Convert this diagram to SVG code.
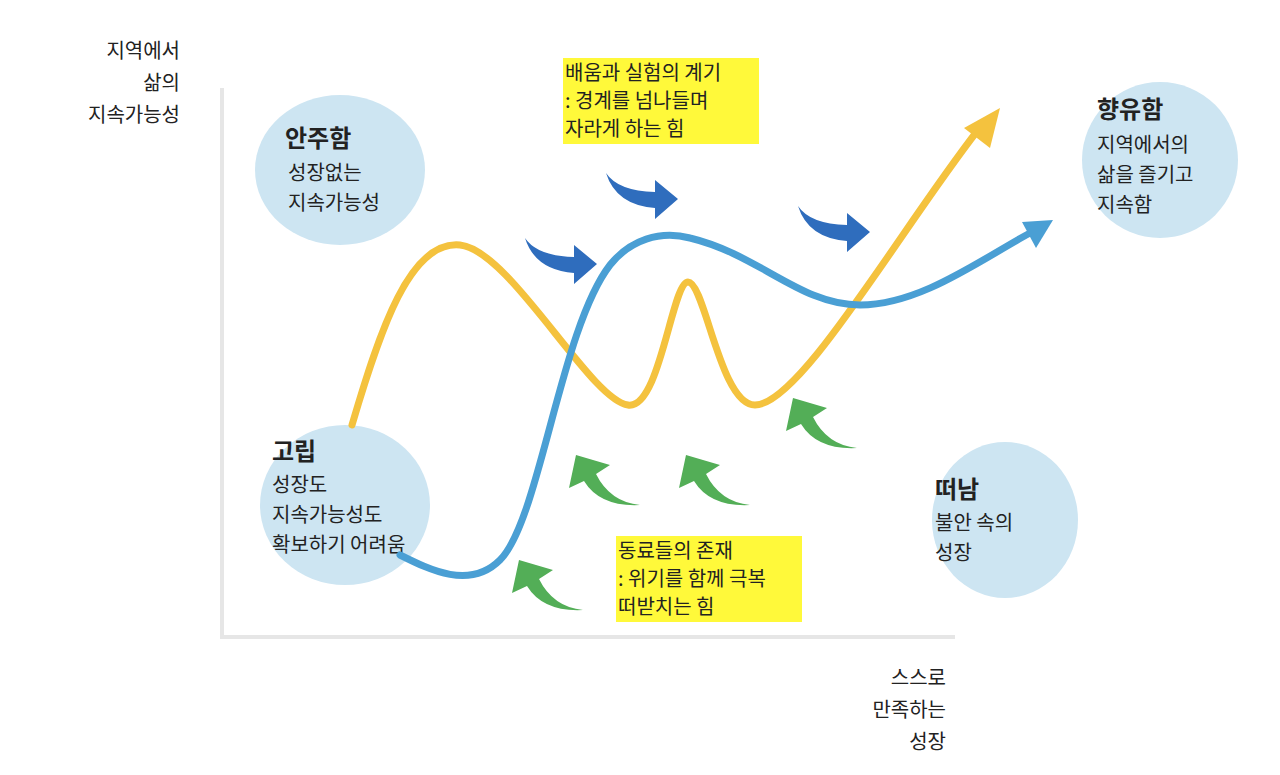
<svg xmlns="http://www.w3.org/2000/svg" width="1280" height="775" viewBox="0 0 1280 775">
<style>
text{font-family:"Noto Sans CJK KR","Noto Sans",sans-serif;font-size:20px;fill:#222}
.t{font-size:24px;font-weight:bold}
.c{fill:#cde5f2}
.hl{fill:#fff93a}
.ba{fill:#2f6dbd}
.ga{fill:#53ae57}
</style>
<defs>
<path id="barrow" d="M0,0 Q12,18 49,19 L49,7 L72,26 L49,46 L49,35 Q10,32 0,0 Z"/>
<path id="garrow" d="M0,0 Q-30,-3 -44,-31 L-30,-40 L-64,-50 L-71,-17 L-56,-24 Q-40,2 0,0 Z"/>
</defs>
<rect width="1280" height="775" fill="#fff"/>
<g id="axes" stroke="#e6e6e6" stroke-width="4" fill="none">
<path d="M222,88 V637 H955"/>
</g>
<g id="node-anju"><ellipse class="c" cx="340" cy="170" rx="85" ry="75"/>
<text class="t" x="285" y="147">안주함</text><text x="288" y="180">성장없는</text><text x="288" y="210">지속가능성</text></g>
<g id="node-gorip"><ellipse class="c" cx="345" cy="505" rx="85" ry="80"/>
<text class="t" x="272" y="460">고립</text><text x="272" y="492">성장도</text><text x="272" y="522">지속가능성도</text><text x="272" y="552">확보하기 어려움</text></g>
<g id="node-tteonam"><ellipse class="c" cx="1005" cy="520" rx="73" ry="78"/>
<text class="t" x="935" y="498">떠남</text><text x="935" y="530">불안 속의</text><text x="935" y="560">성장</text></g>
<g id="node-hyangyu"><ellipse class="c" cx="1160" cy="160" rx="78" ry="78"/>
<text class="t" x="1097" y="118">향유함</text><text x="1097" y="152">지역에서의</text><text x="1097" y="182">삶을 즐기고</text><text x="1097" y="212">지속함</text></g>
<g id="connectors" fill="none" stroke-width="7" stroke-linecap="round">
<path stroke="#f4c23e" d="M352,425 C380,330 410,240 460,245 C510,250 590,400 628,405 C660,410 672,282 688,282 C705,282 720,405 755,405 C800,405 900,230 978,130"/>
<polygon fill="#f4c23e" stroke="none" points="1000,108 990,148 964,128"/>
<path stroke="#4a9fd4" d="M400,555 C430,570 470,590 500,560 C540,520 560,330 610,265 C630,240 660,230 690,238 C760,255 800,305 860,305 C920,305 980,260 1030,233"/>
<polygon fill="#4a9fd4" stroke="none" points="1053,220 1036,248 1022,222"/>
</g>
<g id="arrows">
<use href="#barrow" class="ba" x="525" y="238"/>
<use href="#barrow" class="ba" x="606" y="173"/>
<use href="#barrow" class="ba" x="798" y="206"/>
<use href="#garrow" class="ga" x="857" y="448"/>
<use href="#garrow" class="ga" x="640" y="505"/>
<use href="#garrow" class="ga" x="750" y="505"/>
<use href="#garrow" class="ga" x="583" y="610"/>
</g>
<g id="label-top">
<rect class="hl" x="563" y="58" width="196" height="86"/>
<text x="565" y="80">배움과 실험의 계기</text><text x="565" y="108">: 경계를 넘나들며</text><text x="565" y="136">자라게 하는 힘</text>
</g>
<g id="label-bottom">
<rect class="hl" x="616" y="536" width="186" height="86"/>
<text x="618" y="558">동료들의 존재</text><text x="618" y="586">: 위기를 함께 극복</text><text x="618" y="614">  떠받치는 힘</text>
</g>
<g id="axis-labels">
<text x="180" y="58" text-anchor="end">지역에서</text><text x="180" y="90" text-anchor="end">삶의</text><text x="180" y="122" text-anchor="end">지속가능성</text>
<text x="946" y="685" text-anchor="end">스스로</text><text x="946" y="717" text-anchor="end">만족하는</text><text x="946" y="749" text-anchor="end">성장</text>
</g>
</svg>
